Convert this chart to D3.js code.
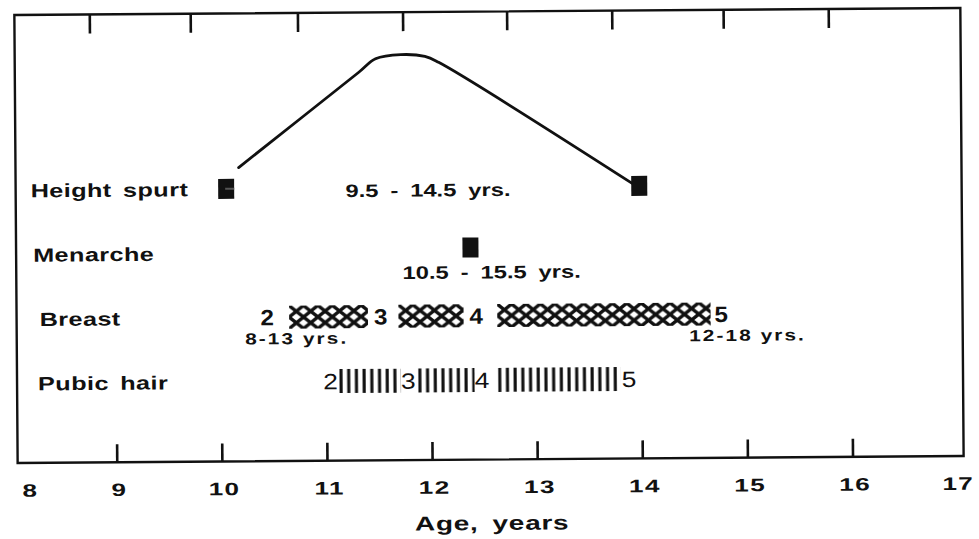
<!DOCTYPE html>
<html><head><meta charset="utf-8">
<script src="https://cdn.jsdelivr.net/npm/d3@7/dist/d3.min.js"></script>
<style>html,body{margin:0;padding:0;background:#fff;}svg{display:block;}</style>
</head><body>
<svg id="chart" width="979" height="539"></svg>
<script>
// ---------- data ----------
const tickAges = [8, 9, 10, 11, 12, 13, 14, 15, 16, 17];
const tickLabels = ["8", "9", "10", "11", "12", "13", "14", "15", "16", "17"];
const bottomTickAges = [9, 10, 11, 12, 13, 14, 15, 16];
const topTickAges = [8.77, 9.73, 10.75, 11.75, 12.74, 13.74, 14.80, 15.80];
const rowLabels = ["Height spurt", "Menarche", "Breast", "Pubic hair"];

// height-velocity curve (relative velocity, 0 = baseline, 1 = peak)
const curveAges = [10.18, 11.33, 11.49, 11.73, 11.96, 12.09, 13.96];
const curveVelocity = [0.16, 0.87, 0.97, 1.00, 0.985, 0.94, 0.0];
const heightMarkerAges = [10.06, 13.99];
const menarcheMarkerAges = [12.38];

const breastStages = ["2", "3", "4", "5"];
const breastStageAges = [10.44, 11.52, 12.43, 14.76];
const breastBars = [[10.65, 11.40], [11.69, 12.31], [12.63, 14.66]];

const pubicStages = ["2", "3", "4", "5"];
const pubicStageAges = [11.04, 11.78, 12.48, 13.88];
const pubicBars = [[11.12, 11.71], [11.87, 12.41], [12.63, 13.80]];

const rangeTexts = ["9.5 - 14.5 yrs.", "10.5 - 15.5 yrs.", "8-13 yrs.", "12-18 yrs."];
const rangeAges = [11.98, 12.58, 10.72, 15.01];
const rangeRows = ["Height spurt", "Menarche", "Breast", "Breast"];

const axisTitle = "Age, years";

// ---------- layout ----------
const W = 979, H = 539;
const frame = {left: 16, right: 962, top: 11.5, bottom: 459.5};
const x = d3.scaleLinear().domain([8, 17]).range([10, 956]);
const row = d3.scalePoint().domain(rowLabels).range([187, 380]);
const yv = d3.scaleLinear().domain([0, 1]).range([row("Height spurt"), 54]);
const INK = "#111";
const FONT = "'Liberation Sans', Arial, Helvetica, sans-serif";

const svg = d3.select("#chart");
svg.append("rect").attr("width", W).attr("height", H).attr("fill", "#fff");
const defs = svg.append("defs");
const g = svg.append("g").attr("transform", "rotate(-0.42 489 237)");

function txt(parent, px, py, s, o) {
  return parent.append("text")
    .attr("transform", `translate(${px},${py}) scale(${o.sx || 1},1)`)
    .attr("text-anchor", o.anchor || "middle")
    .attr("font-family", FONT)
    .attr("font-size", o.size)
    .attr("font-weight", o.weight || "bold")
    .attr("letter-spacing", o.ls || 0)
    .attr("word-spacing", o.ws || 0)
    .attr("fill", INK)
    .text(s);
}

// frame
g.append("rect")
  .attr("x", frame.left).attr("y", frame.top)
  .attr("width", frame.right - frame.left).attr("height", frame.bottom - frame.top)
  .attr("fill", "none").attr("stroke", INK).attr("stroke-width", 2.4);

// top ticks (hanging down from the top edge)
const topAxis = g.append("g").attr("transform", `translate(0,${frame.top})`)
  .call(d3.axisTop(x).tickValues(topTickAges).tickSizeInner(-19).tickSizeOuter(0).tickFormat(""));
topAxis.select(".domain").remove();
topAxis.selectAll("line").attr("stroke", INK).attr("stroke-width", 2.6);

// bottom ticks (rising from the bottom edge)
const botAxis = g.append("g").attr("transform", `translate(0,${frame.bottom})`)
  .call(d3.axisBottom(x).tickValues(bottomTickAges).tickSizeInner(-18).tickSizeOuter(0).tickFormat(""));
botAxis.select(".domain").remove();
botAxis.selectAll("line").attr("stroke", INK).attr("stroke-width", 2.6);

// bottom tick labels
const labAxis = g.append("g").attr("transform", `translate(0,${frame.bottom})`)
  .call(d3.axisBottom(x).tickValues(tickAges).tickSize(0).tickPadding(21)
    .tickFormat((d, i) => tickLabels[i]));
labAxis.select(".domain").remove();
labAxis.selectAll("text")
  .attr("font-family", FONT).attr("font-size", 18).attr("font-weight", "bold")
  .attr("fill", INK).attr("letter-spacing", 1)
  .attr("transform", (d, i) => `translate(${i === 0 ? 18 : (i === tickAges.length - 1 ? 0 : 2)},0) scale(1.45,1)`);

// axis title
txt(g, 490, 530, axisTitle, {size: 20, sx: 1.4, ls: 0.5, ws: 4});

// row labels
const indent = {"Height spurt": 0, "Menarche": 2, "Breast": 8, "Pubic hair": 6};
rowLabels.forEach(r => {
  txt(g, 31 + indent[r], row(r) + 7, r, {size: 19, sx: 1.33, anchor: "start", ls: 0.3, ws: 3});
});

// height velocity curve
const curvePts = curveAges.map((a, i) => [a, curveVelocity[i]]);
g.append("path")
  .attr("d", d3.line().x(d => x(d[0])).y(d => yv(d[1])).curve(d3.curveCatmullRom.alpha(0.5))(curvePts))
  .attr("fill", "none").attr("stroke", INK).attr("stroke-width", 2.8)
  .attr("stroke-linecap", "round").attr("stroke-linejoin", "round");

// markers
const mw = 16, mh = 20;
g.selectAll("rect.hm").data(heightMarkerAges).enter().append("rect").attr("class", "hm")
  .attr("x", d => x(d) - mw / 2).attr("y", row("Height spurt") - mh / 2)
  .attr("width", mw).attr("height", mh).attr("fill", INK);
g.append("rect")
  .attr("x", x(heightMarkerAges[0]) - 1).attr("y", row("Height spurt") - 1.2)
  .attr("width", mw / 2 + 1).attr("height", 2).attr("fill", "#555");
g.selectAll("rect.mm").data(menarcheMarkerAges).enter().append("rect").attr("class", "mm")
  .attr("x", d => x(d) - mw / 2).attr("y", row("Menarche") - 4 - mh / 2)
  .attr("width", mw).attr("height", mh).attr("fill", INK);

// breast cross-hatch bars
const bh = 23, pw = 14.4, ph = 11.5;
breastBars.forEach((b, i) => {
  const x0 = x(b[0]), y0 = row("Breast") - bh / 2;
  const p = defs.append("pattern").attr("id", "hatch" + i)
    .attr("patternUnits", "userSpaceOnUse").attr("x", x0).attr("y", y0)
    .attr("width", pw).attr("height", ph);
  p.append("path").attr("d", `M0,0L${pw},${ph}M${pw},0L0,${ph}`)
    .attr("stroke", INK).attr("stroke-width", 3.4).attr("fill", "none");
  g.append("rect").attr("x", x0).attr("y", y0)
    .attr("width", x(b[1]) - x0).attr("height", bh).attr("fill", `url(#hatch${i})`);
});
breastStages.forEach((s, i) => {
  txt(g, x(breastStageAges[i]), row("Breast") + 8, s, {size: 22, sx: 1.1});
});

// pubic hair vertical-line bars
const vh = 24, vw = 7.7;
pubicBars.forEach((b, i) => {
  const x0 = x(b[0]), y0 = row("Pubic hair") - vh / 2;
  const p = defs.append("pattern").attr("id", "vl" + i)
    .attr("patternUnits", "userSpaceOnUse").attr("x", x0).attr("y", y0)
    .attr("width", vw).attr("height", vh);
  p.append("rect").attr("x", 0.5).attr("y", 0).attr("width", 3.1).attr("height", vh).attr("fill", INK);
  g.append("rect").attr("x", x0).attr("y", y0)
    .attr("width", x(b[1]) - x0).attr("height", vh).attr("fill", `url(#vl${i})`);
});
pubicStages.forEach((s, i) => {
  txt(g, x(pubicStageAges[i]), row("Pubic hair") + 8, s, {size: 22, sx: 1.2, weight: "normal"});
});

// age range annotations
rangeTexts.forEach((t, i) => {
  const r = rangeRows[i];
  const small = (r === "Breast");
  const dy = r === "Height spurt" ? 9 : 27;
  txt(g, x(rangeAges[i]), row(r) + dy, t,
    small ? {size: 16, sx: 1.3, ls: 1.6} : {size: 18, sx: 1.32, ws: 4});
});
</script>
</body></html>
